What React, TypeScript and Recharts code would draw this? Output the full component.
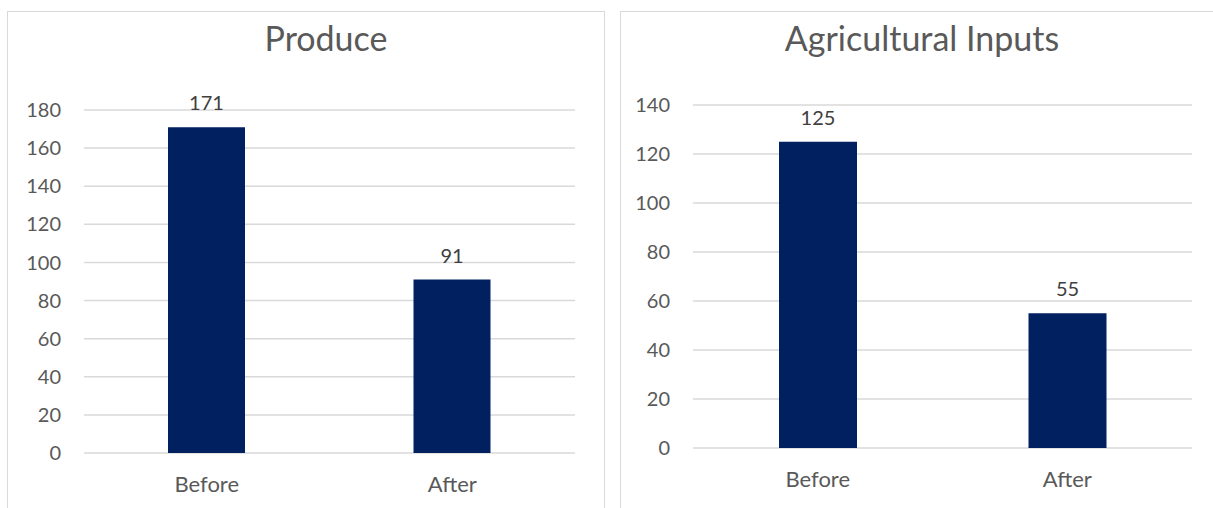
import React from 'react';
import { BarChart, Bar, XAxis, YAxis, CartesianGrid, LabelList } from 'recharts';

const periods = ['Before', 'After'];
const produceCounts = [171, 91];
const inputCounts = [125, 55];
const produceTicks = [0, 20, 40, 60, 80, 100, 120, 140, 160, 180];
const inputTicks = [0, 20, 40, 60, 80, 100, 120, 140];

const FONT = 'Lato, "Open Sans", sans-serif';
const AXIS_TEXT = '#595959';
const BAR_COLOR = '#002060';
const GRID_COLOR = '#d9d9d9';

interface PanelProps {
  title: string;
  values: number[];
  ticks: number[];
  left: number;
  width: number;
  yAxisWidth: number;
  marginTop: number;
  marginRight: number;
  xAxisHeight: number;
  barSize: number;
  titleCenter: number;
  hideRightBorder?: boolean;
}

const ChartPanel: React.FC<PanelProps> = ({
  title,
  values,
  ticks,
  left,
  width,
  yAxisWidth,
  marginTop,
  marginRight,
  xAxisHeight,
  barSize,
  titleCenter,
  hideRightBorder,
}) => {
  const data = periods.map((name, i) => ({ name, value: values[i] }));
  const chartHeight = 496;

  return (
    <div
      style={{
        position: 'absolute',
        left,
        top: 11,
        width: width + (hideRightBorder ? 1 : 2),
        height: 520,
        boxSizing: 'border-box',
        border: `1px solid ${GRID_COLOR}`,
        borderRight: hideRightBorder ? 'none' : `1px solid ${GRID_COLOR}`,
        background: '#fff',
      }}
    >
      <div
        style={{
          position: 'absolute',
          left: titleCenter - 250,
          width: 500,
          top: 9,
          textAlign: 'center',
          fontFamily: FONT,
          fontSize: 34,
          fontWeight: 400,
          lineHeight: '34px',
          color: AXIS_TEXT,
          whiteSpace: 'nowrap',
        }}
      >
        {title}
      </div>
      <BarChart
        width={width}
        height={chartHeight}
        data={data}
        margin={{ top: marginTop, right: marginRight, bottom: 0, left: 0 }}
      >
        <CartesianGrid vertical={false} stroke={GRID_COLOR} strokeWidth={1.5} />
        <XAxis
          dataKey="name"
          axisLine={false}
          tickLine={false}
          tickSize={0}
          tickMargin={23}
          height={xAxisHeight}
          tick={{ fill: AXIS_TEXT, fontSize: 22, fontFamily: FONT }}
        />
        <YAxis
          domain={[0, ticks[ticks.length - 1]]}
          ticks={ticks}
          interval={0}
          axisLine={false}
          tickLine={false}
          tickSize={0}
          tickMargin={23}
          width={yAxisWidth}
          tick={{ fill: AXIS_TEXT, fontSize: 20, fontFamily: FONT }}
        />
        <Bar dataKey="value" fill={BAR_COLOR} barSize={barSize} isAnimationActive={false}>
          <LabelList
            dataKey="value"
            position="top"
            offset={17}
            fill="#404040"
            fontSize={20}
            fontFamily={FONT}
          />
        </Bar>
      </BarChart>
    </div>
  );
};

const App: React.FC = () => (
  <div
    style={{
      position: 'fixed',
      left: 0,
      top: 0,
      width: 1213,
      height: 508,
      overflow: 'hidden',
      background: '#fff',
    }}
  >
    <ChartPanel
      title="Produce"
      values={produceCounts}
      ticks={produceTicks}
      left={7}
      width={596}
      yAxisWidth={76}
      marginTop={98}
      marginRight={29}
      xAxisHeight={55}
      barSize={77}
      titleCenter={318}
    />
    <ChartPanel
      title="Agricultural Inputs"
      values={inputCounts}
      ticks={inputTicks}
      left={620}
      width={600}
      yAxisWidth={72}
      marginTop={93}
      marginRight={29}
      xAxisHeight={60}
      barSize={78}
      titleCenter={301}
      hideRightBorder
    />
  </div>
);

export default App;
